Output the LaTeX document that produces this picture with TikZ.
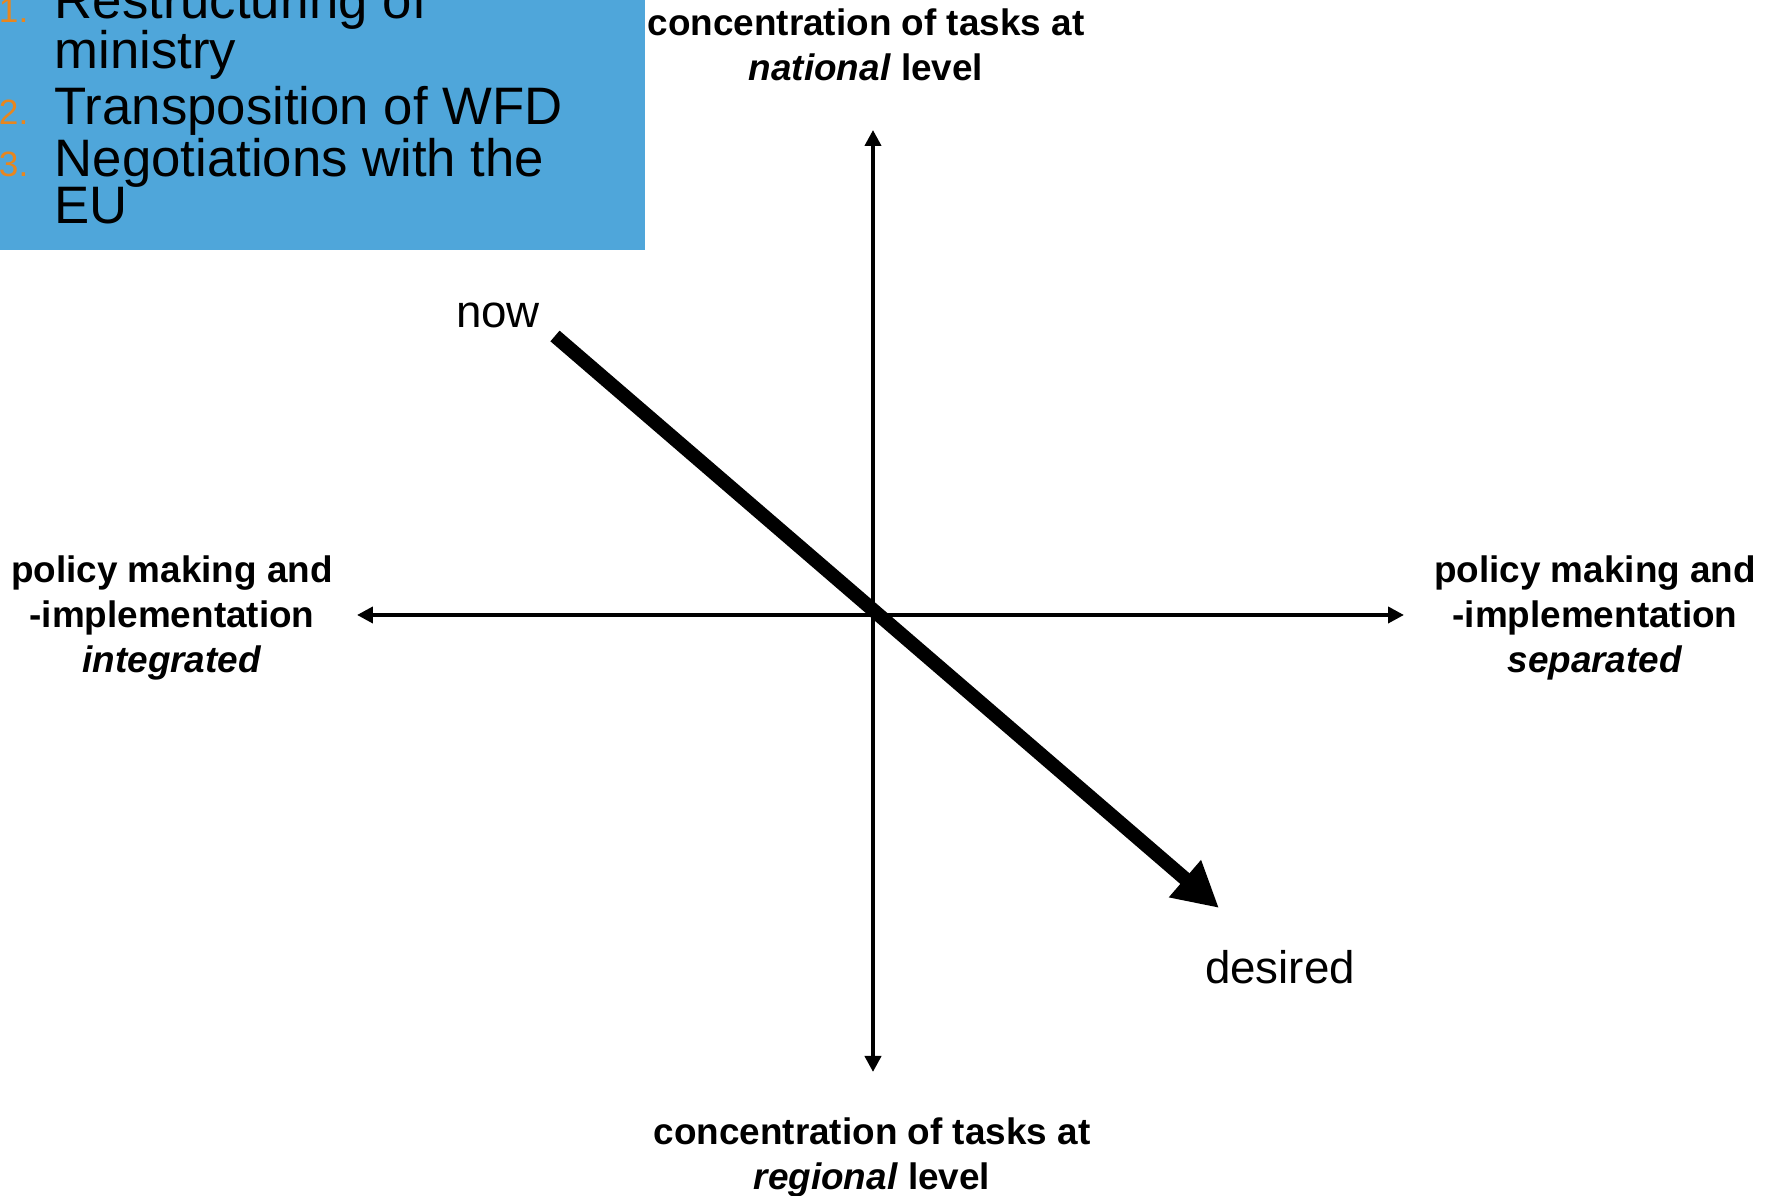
\documentclass[tikz,border=0pt]{standalone}
\usepackage{fontspec}
\setmainfont{Liberation Sans}
\usetikzlibrary{arrows.meta}

\definecolor{panelblue}{RGB}{79,166,218}
\definecolor{listorange}{RGB}{232,134,30}

\begin{document}
\begin{tikzpicture}[
  axis/.style = {{Triangle[length=1.6mm,width=1.6mm]}-{Triangle[length=1.6mm,width=1.6mm]},
                 line width=1.1pt},
  trend/.style = {-{Triangle[length=4.5mm,width=4.6mm]}, line width=4pt},
  axislabel/.style = {align=center, inner sep=0pt,
                      font=\fontsize{10.5pt}{12.8pt}\selectfont\bfseries},
  statelabel/.style = {inner sep=0pt, font=\fontsize{13pt}{15pt}\selectfont},
  listtext/.style = {anchor=base west, align=left, inner sep=0pt,
                     font=\fontsize{15pt}{13.1pt}\selectfont},
  listnum/.style = {anchor=base east, inner sep=0pt, text=listorange,
                    font=\fontsize{10pt}{12pt}\selectfont}
]
\useasboundingbox (-87.3mm,-58.1mm) rectangle (90.2mm,61.5mm);

% Blue panel with the list (base of a two-line item is its last line)
\fill[panelblue] (-87.3mm,36.5mm) rectangle (-22.8mm,61.5mm);
\node[listnum]  (num1)  at (-84.4mm,59.2mm) {1.};
\node[listtext] (item1) at (-81.9mm,54.6mm) {Restructuring of\\[-0.6pt]ministry};
\node[listnum]  (num2)  at (-84.4mm,49.0mm) {2.};
\node[listtext] (item2) at (-81.9mm,49.0mm) {Transposition of WFD};
\node[listnum]  (num3)  at (-84.4mm,43.8mm) {3.};
\node[listtext] (item3) at (-81.9mm,39.1mm) {Negotiations with the\\[-1pt]EU};

% Axes
\coordinate (origin) at (0,0);
\coordinate (north) at (0,48.5mm);
\coordinate (south) at (0,-45.7mm);
\coordinate (west) at (-51.6mm,0);
\coordinate (east) at (53.1mm,0);
\draw[axis] (south) -- (north);
\draw[axis] (west) -- (east);

% Axis labels
\node[axislabel] (national) at (-0.7mm,57.0mm) {concentration of tasks at\\\textit{national} level};
\node[axislabel] (regional) at (-0.1mm,-54.2mm) {concentration of tasks at\\\textit{regional} level};
\node[axislabel] (integrated) at (-70.1mm,-0.3mm) {policy making and\\-implementation\\\textit{integrated}};
\node[axislabel] (separated) at (72.2mm,-0.3mm) {policy making and\\-implementation\\\textit{separated}};

% Trend from now to desired
\coordinate (trend_start) at (-31.8mm,27.9mm);
\coordinate (trend_end) at (34.6mm,-29.3mm);
\draw[trend] (trend_start) -- (trend_end);
\node[statelabel] (now) at (-37.5mm,30.0mm) {now};
\node[statelabel] (desired) at (40.7mm,-35.2mm) {desired};

\end{tikzpicture}
\end{document}
